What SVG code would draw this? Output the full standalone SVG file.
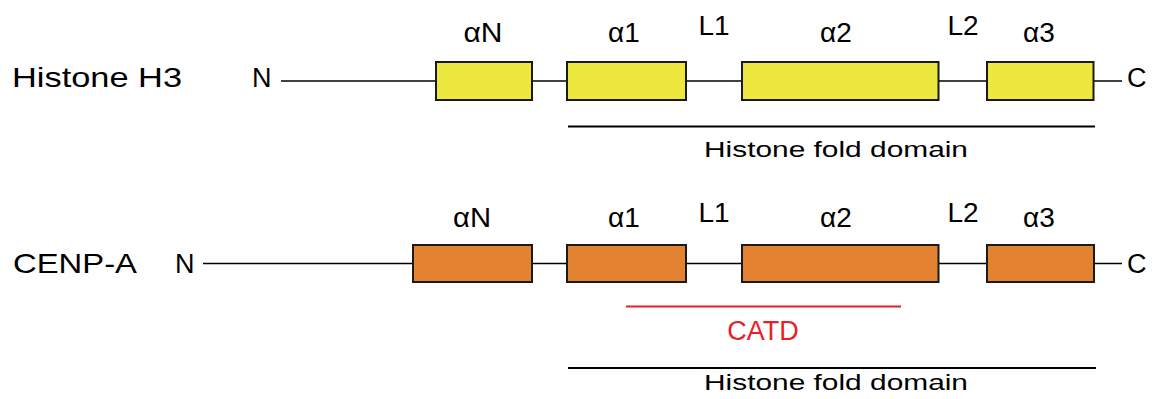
<svg xmlns="http://www.w3.org/2000/svg" width="1153" height="399" viewBox="0 0 1153 399">
  <style>
    text { font-family: "Liberation Sans", Arial, sans-serif; fill: #000; }
    .lbl { font-size: 28px; text-anchor: middle; }
    .name { font-size: 28px; }
    .term { font-size: 27px; }
    .hfd { font-size: 22.5px; }
    .catd { font-size: 27px; fill: #ed1c24; text-anchor: middle; }
    .bb { stroke: #000; stroke-width: 1.6; fill: none; }
    .dom { stroke: #000; stroke-width: 2; fill: none; }
    .red { stroke: #ed1c24; stroke-width: 2; fill: none; }
    .h3 { fill: #ece83e; stroke: #1a1a1a; stroke-width: 2; }
    .cenp { fill: #e38230; stroke: #1a1a1a; stroke-width: 2; }
  </style>
  <rect width="1153" height="399" fill="#fff"/>

  <g id="connectors">
    <line class="bb" x1="281" y1="81" x2="1122" y2="81"/>
    <line class="bb" x1="203" y1="263.5" x2="1122" y2="263.5"/>
    <line class="dom" x1="568" y1="126.5" x2="1095" y2="126.5"/>
    <line class="red" x1="626" y1="306.5" x2="901" y2="306.5"/>
    <line class="dom" x1="568" y1="368" x2="1096" y2="368"/>
  </g>

  <g id="h3-row">
    <text class="name" x="12" y="87" textLength="170" lengthAdjust="spacingAndGlyphs">Histone H3</text>
    <text class="term" x="252" y="87">N</text>
    <text class="term" x="1127" y="87">C</text>
    <g id="h3-aN"><rect class="h3" x="436" y="62" width="96" height="38"/><text class="lbl" x="483" y="42" textLength="39" lengthAdjust="spacingAndGlyphs">αN</text></g>
    <g id="h3-a1"><rect class="h3" x="567" y="62" width="119" height="38"/><text class="lbl" x="624" y="42">α1</text></g>
    <g id="h3-L1"><text class="lbl" x="714" y="35">L1</text></g>
    <g id="h3-a2"><rect class="h3" x="742" y="62" width="196.5" height="38"/><text class="lbl" x="836" y="42">α2</text></g>
    <g id="h3-L2"><text class="lbl" x="963" y="35">L2</text></g>
    <g id="h3-a3"><rect class="h3" x="987" y="62" width="106.5" height="38"/><text class="lbl" x="1039" y="42">α3</text></g>
    <g id="h3-hfd"><text class="hfd" x="704" y="156.5" textLength="264" lengthAdjust="spacingAndGlyphs">Histone fold domain</text></g>
  </g>

  <g id="cenpa-row">
    <text class="name" x="13" y="273" textLength="124" lengthAdjust="spacingAndGlyphs">CENP-A</text>
    <text class="term" x="175" y="273">N</text>
    <text class="term" x="1127" y="273">C</text>
    <g id="cenpa-aN"><rect class="cenp" x="413" y="245" width="119" height="37"/><text class="lbl" x="472" y="226.5" textLength="38" lengthAdjust="spacingAndGlyphs">αN</text></g>
    <g id="cenpa-a1"><rect class="cenp" x="567" y="245" width="119" height="37"/><text class="lbl" x="624" y="226.5">α1</text></g>
    <g id="cenpa-L1"><text class="lbl" x="714" y="221.5">L1</text></g>
    <g id="cenpa-a2"><rect class="cenp" x="742" y="245" width="196.5" height="37"/><text class="lbl" x="836" y="226.5">α2</text></g>
    <g id="cenpa-L2"><text class="lbl" x="963" y="221.5">L2</text></g>
    <g id="cenpa-a3"><rect class="cenp" x="987" y="245" width="107" height="37"/><text class="lbl" x="1039" y="226.5">α3</text></g>
    <g id="cenpa-catd"><text class="catd" x="763" y="340">CATD</text></g>
    <g id="cenpa-hfd"><text class="hfd" x="704" y="390" textLength="264" lengthAdjust="spacingAndGlyphs">Histone fold domain</text></g>
  </g>
</svg>
